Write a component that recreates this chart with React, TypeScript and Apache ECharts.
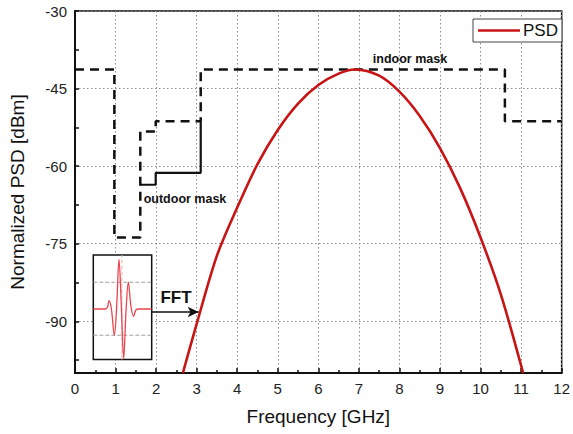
import React, { useEffect, useRef } from 'react';
import * as echarts from 'echarts';

// PSD curve (GHz, dBm)
const psdFreq = [2.66, 3.0, 3.5, 4.0, 4.5, 5.0, 5.5, 6.0, 6.5, 6.9, 7.5, 8.0, 8.5, 9.0, 9.5, 10.0, 10.5, 11.05];
const psdLevel = [-100, -90.5, -77.3, -68, -59.6, -53, -47.9, -44.3, -42.1, -41.3, -42.5, -45.6, -50.3, -56.5, -64.3, -73.8, -84.8, -100];

// Indoor mask (dashed)
const indoorFreq = [0, 0.97, 0.97, 1.61, 1.61, 1.99, 1.99, 3.1, 3.1, 10.6, 10.6, 12];
const indoorLevel = [-41.3, -41.3, -73.8, -73.8, -53.3, -53.3, -51.3, -51.3, -41.3, -41.3, -51.3, -51.3];

// Outdoor mask (solid)
const outdoorFreq = [1.61, 1.99, 1.99, 3.1, 3.1];
const outdoorLevel = [-63.6, -63.6, -61.3, -61.3, -51.3];

// Inset pulse (normalised time, amplitude)
const pulseTime = [0, 0.2, 0.24, 0.27, 0.31, 0.36, 0.4, 0.44, 0.48, 0.52, 0.56, 0.6, 0.645, 0.69, 0.73, 0.78, 1];
const pulseAmp = [0, 0, 0.03, 0.17, 0.0, -0.53, 0.05, 1.0, 0.05, -1.0, -0.05, 0.54, 0.05, -0.15, -0.02, 0, 0];

// Axis ticks
const xTickLabels = [0, 1, 2, 3, 4, 5, 6, 7, 8, 9, 10, 11, 12];
const yTickLabels = [-90, -75, -60, -45, -30];
const yMinorTicks = [-97.5, -82.5, -67.5, -52.5, -37.5];
const X_MIN = 0, X_MAX = 12, Y_MIN = -100, Y_MAX = -30;

// Inset grid lines and FFT arrow
const insetHLines = [0.54, -0.53];
const insetVLines = [0.49];
const INSET_Y_MIN = -1.02, INSET_Y_MAX = 1.09;
const arrowFrom = [1.875, -88.2];
const arrowTo = [3.05, -88.2];

const zip = (a: number[], b: number[]) => a.map((v, i) => [v, b[i]]);

const INSET = { left: 93.3, top: 255, width: 58.4, height: 104.5 };
const FONT = '"Liberation Sans", Arial, sans-serif';

export default function App() {
  const ref = useRef<HTMLDivElement>(null);
  useEffect(() => {
    if (!ref.current) return;
    const chart = echarts.init(ref.current, null, { renderer: 'svg' });
    const dotted = { color: '#8a8a8a', width: 1, type: [1.5, 2.5] as any };
    const insetSeries = [
      ...insetHLines.map((v) => ({ d: [[0, v], [1, v]], c: '#a0a0a0' })),
      ...insetVLines.map((v) => ({ d: [[v, INSET_Y_MIN], [v, INSET_Y_MAX]], c: '#f0b4b4' })),
    ].map((s) => ({
      type: 'line', xAxisIndex: 1, yAxisIndex: 1, data: s.d, symbol: 'none', silent: true, z: 9,
      lineStyle: { color: s.c, width: 1, type: 'dashed' },
    }));
    chart.setOption({
      animation: false,
      backgroundColor: '#ffffff',
      textStyle: { fontFamily: FONT },
      legend: {
        data: [{ name: 'PSD', icon: 'rect' }],
        left: 473,
        top: 19,
        padding: [3, 4, 3, 5],
        itemWidth: 42,
        itemHeight: 2.6,
        itemGap: 4,
        borderColor: '#444',
        borderWidth: 1,
        backgroundColor: '#fff',
        textStyle: { fontSize: 17, color: '#111', fontFamily: FONT, padding: [0, 0, 0, -2] },
      },
      grid: [
        { left: 75, top: 11, right: 7, bottom: 61, show: true, borderColor: '#111', borderWidth: 1.5, backgroundColor: 'transparent' },
        { left: INSET.left, top: INSET.top, width: INSET.width, height: INSET.height, show: false },
      ],
      xAxis: [
        {
          type: 'value', gridIndex: 0, min: X_MIN, max: X_MAX, interval: 1,
          name: 'Frequency [GHz]', nameLocation: 'middle', nameGap: 34,
          nameTextStyle: { fontSize: 19, color: '#111', fontFamily: FONT },
          axisLine: { lineStyle: { color: '#111', width: 2 } },
          axisTick: { inside: true, length: 5, lineStyle: { color: '#111', width: 1.5 } },
          minorTick: { show: true, splitNumber: 2, length: 3, lineStyle: { color: '#111', width: 1.5 } },
          axisLabel: { fontSize: 15, color: '#222', margin: 8, fontFamily: FONT, customValues: xTickLabels },
          splitLine: { show: true, lineStyle: dotted },
        },
        { type: 'value', gridIndex: 1, min: 0, max: 1, show: false },
      ],
      yAxis: [
        {
          type: 'value', gridIndex: 0, min: Y_MIN, max: Y_MAX,
          name: 'Normalized PSD [dBm]', nameLocation: 'middle', nameGap: 48,
          nameTextStyle: { fontSize: 19, color: '#111', fontFamily: FONT },
          axisLine: { lineStyle: { color: '#111', width: 2 } },
          axisTick: { inside: true, length: 4, customValues: yTickLabels, lineStyle: { color: '#111', width: 1.5 } },
          axisLabel: { fontSize: 15, color: '#222', margin: 8, fontFamily: FONT, customValues: yTickLabels },
          splitLine: { show: true, lineStyle: dotted },
        },
        { type: 'value', gridIndex: 1, min: INSET_Y_MIN, max: INSET_Y_MAX, show: false },
        {
          type: 'value', gridIndex: 0, min: Y_MIN, max: Y_MAX, position: 'left', offset: 0,
          axisLine: { show: false },
          axisTick: { show: true, inside: true, length: 4, customValues: yMinorTicks, lineStyle: { color: '#111', width: 1.5 } },
          axisLabel: { show: false },
          splitLine: { show: false },
        },
      ],
      graphic: [
        {
          type: 'rect', z: 5,
          shape: { x: INSET.left, y: INSET.top, width: INSET.width, height: INSET.height },
          style: { fill: '#fff', stroke: '#111', lineWidth: 1.5 },
        },
        {
          type: 'text', z: 6, x: 410, y: 58.5,
          style: { text: 'indoor mask', font: `bold 12.5px ${FONT}`, fill: '#111', textAlign: 'center', textVerticalAlign: 'middle' },
        },
        {
          type: 'text', z: 6, x: 185, y: 198.5,
          style: { text: 'outdoor mask', font: `bold 12.5px ${FONT}`, fill: '#111', textAlign: 'center', textVerticalAlign: 'middle' },
        },
        {
          type: 'text', z: 6, x: 176, y: 297.5,
          style: { text: 'FFT', font: `bold 17px "Liberation Sans Narrow", "Arial Narrow", ${FONT}`, fill: '#111', textAlign: 'center', textVerticalAlign: 'middle' },
        },
      ],
      series: [
        {
          name: 'indoor mask', type: 'line', xAxisIndex: 0, yAxisIndex: 0,
          data: zip(indoorFreq, indoorLevel), symbol: 'none', z: 3,
          lineStyle: { color: '#111', width: 2.5, type: [9, 6] as any },
        },
        {
          name: 'outdoor mask', type: 'line', xAxisIndex: 0, yAxisIndex: 0,
          data: zip(outdoorFreq, outdoorLevel), symbol: 'none', z: 3,
          lineStyle: { color: '#111', width: 2.2 },
        },
        {
          name: 'PSD', type: 'line', xAxisIndex: 0, yAxisIndex: 0,
          data: zip(psdFreq, psdLevel), symbol: 'none', smooth: 0.3, z: 4,
          itemStyle: { color: '#c81414' },
          lineStyle: { color: '#c81414', width: 2.6 },
        },
        {
          name: 'arrow', type: 'line', xAxisIndex: 0, yAxisIndex: 0, data: [], silent: true, z: 4,
          markLine: {
            silent: true, label: { show: false },
            symbol: ['none', 'arrow'], symbolSize: [8, 11],
            lineStyle: { color: '#111', width: 1.5, type: 'solid' },
            data: [[{ coord: arrowFrom }, { coord: arrowTo }]],
          },
        },
        ...insetSeries,
        {
          name: 'pulse', type: 'line', xAxisIndex: 1, yAxisIndex: 1,
          data: zip(pulseTime, pulseAmp), symbol: 'none', smooth: 0.35, z: 10, clip: false,
          lineStyle: { color: '#e8454f', width: 1.3 },
        },
      ],
    });
    return () => chart.dispose();
  }, []);
  return <div ref={ref} style={{ position: 'fixed', left: 0, top: 0, width: 573, height: 434 }} />;
}
